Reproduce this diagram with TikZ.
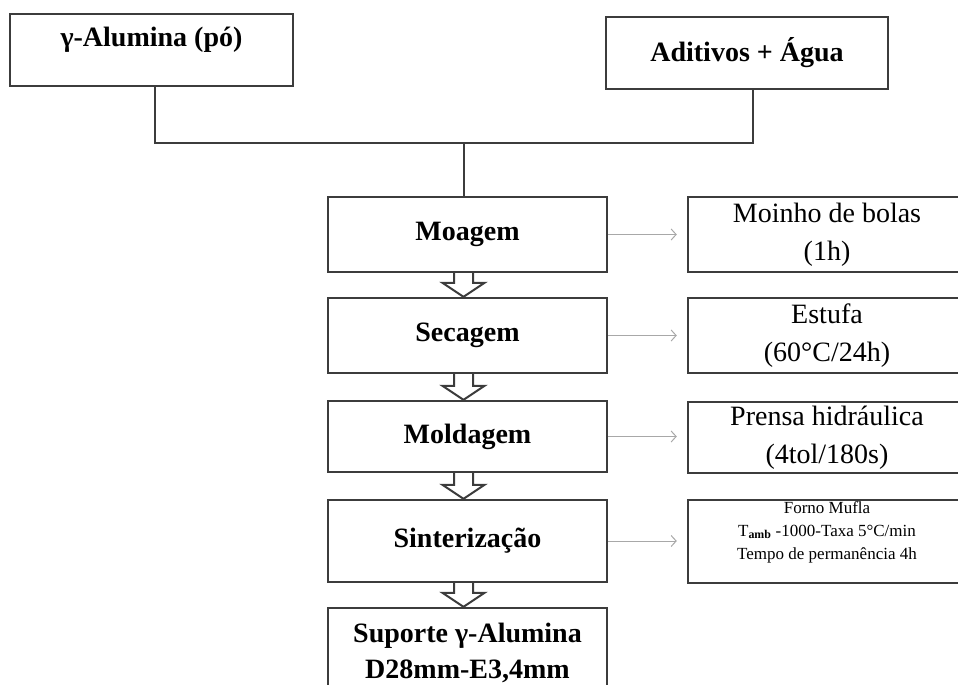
\documentclass[tikz,border=0pt]{standalone}
\usepackage{fontspec}
\setmainfont{Liberation Serif}
\usetikzlibrary{calc,arrows.meta}
\definecolor{linegray}{HTML}{3C3C3C}
\definecolor{asidegray}{HTML}{A8A8A8}
\begin{document}
\begin{tikzpicture}[x=1pt,y=-1pt,
  box/.style={draw=linegray, line width=2.4pt, rectangle, inner sep=0pt, align=center},
  stage/.style={box, minimum width=279pt, font=\fontsize{28}{36}\selectfont\bfseries},
  detail/.style={box, minimum width=278pt, font=\fontsize{28}{38}\selectfont},
  link/.style={draw=linegray, line width=2pt},
  hollow/.style={draw=linegray, line width=2pt, line join=miter},
  aside/.style={draw=asidegray, line width=1pt, -{Straight Barb[length=5pt,width=11pt]}, shorten >=10pt}]
\clip (0,0) rectangle (958,685);
\useasboundingbox (0,0) rectangle (958,685);

% raw materials
\node[box, minimum width=283pt, minimum height=72pt] (alumina) at (151.5,50) {};
\node[font=\fontsize{28}{34}\selectfont\bfseries] (aluminatext) at (151.5,40) {γ-Alumina (pó)};
\node[box, minimum width=282pt, minimum height=72pt, font=\fontsize{28}{34}\selectfont\bfseries] (aditivos) at (747,53) {Aditivos + Água};

% process stages
\node[stage, minimum height=75pt] (moagem) at (467.5,234.5) {Moagem};
\node[stage, minimum height=75pt] (secagem) at (467.5,335.5) {Secagem};
\node[stage, minimum height=71pt] (moldagem) at (467.5,436.5) {Moldagem};
\node[stage, minimum height=82pt] (sinter) at (467.5,541) {Sinterização};
\node[stage, minimum height=90pt] (suporte) at (467.5,653) {Suporte γ-Alumina\\D28mm-E3,4mm};

% equipment and conditions
\node[detail, minimum height=75pt] (moinho) at (827,234.5) {Moinho de bolas\\(1h)};
\node[detail, minimum height=75pt] (estufa) at (827,335.5) {Estufa\\(60°C/24h)};
\node[detail, minimum height=71pt] (prensa) at (827,437.5) {Prensa hidráulica\\(4tol/180s)};
\node[box, minimum width=278pt, minimum height=83pt] (forno) at (827,541.5) {};
\node[align=center, font=\fontsize{17}{23}\selectfont] (fornotext) at (827,532)
  {Forno Mufla\\T\textsubscript{\bfseries amb} -1000-Taxa 5°C/min\\Tempo de permanência 4h};

% mixing connector
\coordinate (join) at (463.5,143);
\draw[link] ([xshift=3.5pt]alumina.south) |- (join) -| ([xshift=6pt]aditivos.south);
\draw[link] (join) -- (moagem.north -| join);

% hollow arrows between stages
\newcommand\stagearrow[2]{%
  \draw[hollow] ($(#1.south -| join)+(-9.5,0)$) -- ($(#2.north -| join)+(-9.5,-14)$)
    -- ($(#2.north -| join)+(-21,-14)$) -- (#2.north -| join)
    -- ($(#2.north -| join)+(21,-14)$) -- ($(#2.north -| join)+(9.5,-14)$)
    -- ($(#1.south -| join)+(9.5,0)$);}
\stagearrow{moagem}{secagem}
\stagearrow{secagem}{moldagem}
\stagearrow{moldagem}{sinter}
\stagearrow{sinter}{suporte}

% side arrows to conditions
\draw[aside] (moagem.east) -- (moinho.west |- moagem.east);
\draw[aside] (secagem.east) -- (estufa.west |- secagem.east);
\draw[aside] (moldagem.east) -- (prensa.west |- moldagem.east);
\draw[aside] (sinter.east) -- (forno.west |- sinter.east);
\end{tikzpicture}
\end{document}
